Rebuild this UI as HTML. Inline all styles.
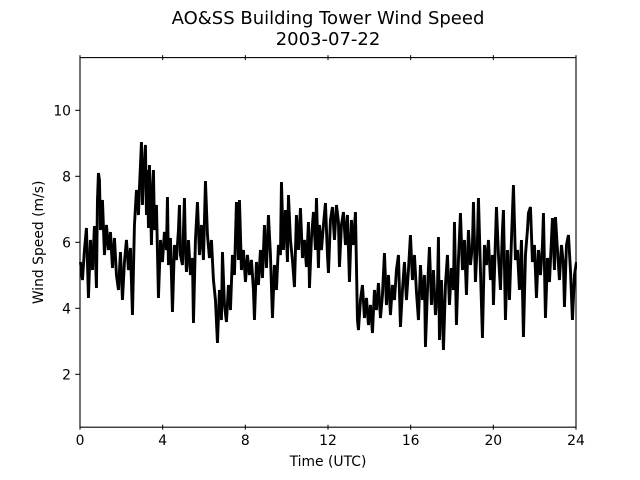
<!DOCTYPE html>
<html><head><meta charset="utf-8"><style>
html,body{margin:0;padding:0;background:#fff;}
svg{display:block;}
text{font-family:"DejaVu Sans","Liberation Sans",sans-serif;fill:#000;}
</style></head><body>
<svg width="640" height="480" viewBox="0 0 640 480" xmlns="http://www.w3.org/2000/svg">
<rect width="640" height="480" fill="#fff"/>
<text x="328" y="24" font-size="18" text-anchor="middle">AO&amp;SS Building Tower Wind Speed</text>
<text x="328" y="45" font-size="18" text-anchor="middle">2003-07-22</text>
<polyline id="d" fill="none" stroke="#000" stroke-width="2" stroke-linejoin="miter" points="
80,262 82,280 84,250 86,228 88,298 90,240 92,270 94,226 96,288 97,200 98,173 99,180 100,230 102,200 104,255 106,225 108,250 110,232 112,268 114,238 116,275 118,290 120,252 122,300 124,262 126,240 128,270 130,248 132,315 134,225 136,190 138,215 139,188 141,142 142,205 143,175 145,145 146,215 147,170 148,228 149,165 150,198 151,245 152,200 153,170 154,230 156,205 158,298 160,240 162,262 164,232 166,250 167,197 168,265 170,238 172,312 174,245 176,260 178,230 179,205 180,255 182,265 184,198 185,250 186,272 188,240 190,275 192,258 193,323 195,240 197,202 199,255 201,225 203,260 205,181 207,235 209,258 211,240 213,280 215,300 217,343 219,290 221,320 222,252 224,305 226,322 228,285 230,310 232,255 234,275 236,202 238,260 239,200 241,270 243,250 245,282 247,255 249,275 251,260 253,290 254,320 256,262 258,285 260,250 262,278 264,225 266,268 268,215 270,255 272,318 274,265 276,290 278,245 280,255 281,182 283,250 285,210 287,262 288,195 290,240 292,260 294,287 296,215 298,250 300,208 302,258 304,240 306,267 308,222 309,288 311,238 313,212 315,250 316,198 318,268 319,225 321,250 323,225 325,203 327,255 328,273 330,220 332,207 334,240 336,205 338,222 339,267 341,225 343,212 345,245 347,215 349,282 351,220 353,245 355,212 357,320 358,330 360,300 362,285 364,318 366,298 368,325 370,305 372,333 374,290 376,310 378,283 380,318 382,295 384,253 386,305 388,275 390,315 392,285 394,300 396,270 398,255 400,327 402,290 404,262 406,300 408,270 410,235 412,280 414,255 416,292 418,320 420,265 422,300 424,275 425,347 427,290 429,247 431,305 433,270 435,315 437,290 438,237 439,340 441,280 443,350 445,285 447,255 449,305 451,268 453,290 454,222 456,325 458,260 460,213 462,270 464,240 466,295 468,230 470,265 472,245 473,202 475,282 477,240 478,198 480,270 482,338 484,245 486,265 488,240 490,280 492,255 493,305 495,240 496,207 498,255 500,290 502,230 503,210 505,320 507,250 509,300 511,240 513,185 515,260 517,250 519,290 521,240 523,337 525,255 527,230 528,213 530,207 532,262 534,245 536,298 538,250 540,275 542,245 543,213 545,318 547,258 549,282 551,240 552,218 554,270 555,217 557,250 559,280 561,245 563,265 564,307 566,245 568,235 570,270 572,320 574,275 576,262"/>
<use href="#d" transform="translate(0.9,0)"/>
<rect x="577" y="50" width="10" height="390" fill="#fff"/>
<rect x="80" y="57.6" width="496" height="369.6" fill="none" stroke="#000" stroke-width="1.1"/>
<g stroke="#000" stroke-width="1">
<line x1="80" y1="424.7" x2="80" y2="429.7"/>
<line x1="162.7" y1="424.7" x2="162.7" y2="429.7"/>
<line x1="245.3" y1="424.7" x2="245.3" y2="429.7"/>
<line x1="328" y1="424.7" x2="328" y2="429.7"/>
<line x1="410.7" y1="424.7" x2="410.7" y2="429.7"/>
<line x1="493.3" y1="424.7" x2="493.3" y2="429.7"/>
<line x1="576" y1="424.7" x2="576" y2="429.7"/>
<line x1="80" y1="55.1" x2="80" y2="60.1"/>
<line x1="162.7" y1="55.1" x2="162.7" y2="60.1"/>
<line x1="245.3" y1="55.1" x2="245.3" y2="60.1"/>
<line x1="328" y1="55.1" x2="328" y2="60.1"/>
<line x1="410.7" y1="55.1" x2="410.7" y2="60.1"/>
<line x1="493.3" y1="55.1" x2="493.3" y2="60.1"/>
<line x1="576" y1="55.1" x2="576" y2="60.1"/>
<line x1="75.2" y1="374.3" x2="80" y2="374.3"/>
<line x1="75.2" y1="308.3" x2="80" y2="308.3"/>
<line x1="75.2" y1="242.3" x2="80" y2="242.3"/>
<line x1="75.2" y1="176.3" x2="80" y2="176.3"/>
<line x1="75.2" y1="110.3" x2="80" y2="110.3"/>
</g>
<g font-size="13.9" text-anchor="middle">
<text x="80" y="445">0</text>
<text x="162.7" y="445">4</text>
<text x="245.3" y="445">8</text>
<text x="328" y="445">12</text>
<text x="410.7" y="445">16</text>
<text x="493.3" y="445">20</text>
<text x="576" y="445">24</text>
</g>
<g font-size="13.9" text-anchor="end">
<text x="71" y="379.3">2</text>
<text x="71" y="313.3">4</text>
<text x="71" y="247.3">6</text>
<text x="71" y="181.3">8</text>
<text x="71" y="115.3">10</text>
</g>
<text x="328" y="466" font-size="13.9" text-anchor="middle">Time (UTC)</text>
<text x="0" y="0" font-size="13.9" text-anchor="middle" transform="translate(43,242.4) rotate(-90)">Wind Speed (m/s)</text>
</svg>
</body></html>
